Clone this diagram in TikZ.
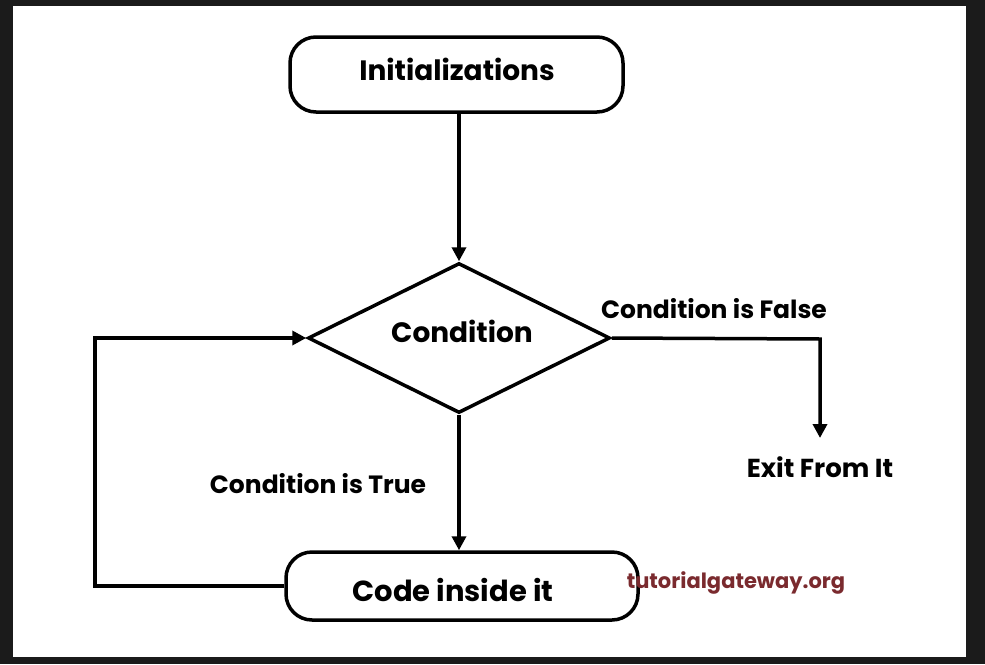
\documentclass[tikz,border=0pt]{standalone}
\usepackage{fontspec}
\newfontfamily\pop{Poppins}
\usetikzlibrary{shapes.geometric,arrows.meta}
\definecolor{frame}{HTML}{1B1B1B}
\definecolor{wm}{HTML}{7A2A2E}
\tikzset{
  box/.style={draw=black,line width=3.5pt,rounded corners=26pt,minimum width=#1,inner sep=0pt},
  dia/.style={draw=black,line width=3.5pt,diamond,inner sep=0pt,minimum width=302pt,minimum height=150pt},
  lbl/.style={font=\pop\bfseries\fontsize{#1}{30}\selectfont,anchor=base,inner sep=0pt},
  lbl/.default=25,
  arr/.style={draw=black,line width=3.5pt,-{Triangle[length=14pt,width=14pt]}},
  ln/.style={draw=black,line width=3.5pt}
}
\begin{document}
\begin{tikzpicture}[x=1pt,y=-1pt]
\useasboundingbox (0,0) rectangle (985,664);
\fill[frame] (0,0) rectangle (985,664);
\fill[white] (13,6) rectangle (966,657);
\node[box=333pt,minimum height=75pt] (init) at (456.5,74.5) {};
\node[lbl=28] (initt) at (457,80) {Initializations};
\node[dia] (cond) at (459,338) {};
\node[lbl=28] (condt) at (462,342) {Condition};
\node[box=352pt,minimum height=68pt] (code) at (462,586) {};
\node[lbl=29] (codet) at (453,601) {Code inside it};
\node[lbl] (truet) at (318,493) {Condition is True};
\node[lbl] (falset) at (714,318) {Condition is False};
\node[lbl=26] (exitt) at (820,477) {Exit From It};
\node[font=\pop\bfseries\fontsize{21}{24}\selectfont,text=wm,anchor=base,inner sep=0pt] (wmt) at (736,588) {tutorialgateway.org};
\coordinate (fbx) at (95,339);
\coordinate (fc) at (820,339);
\coordinate (fe) at (820,438);
\draw[arr] (cond.north |- init.south) -- (cond.north);
\draw[arr] (cond.south) -- (cond.south |- code.north);
\draw[arr] (code.west) -- (code.west -| fbx) |- (cond.west);
\draw[arr] (cond.east) -- (fc) -- (fe);
\end{tikzpicture}
\end{document}
